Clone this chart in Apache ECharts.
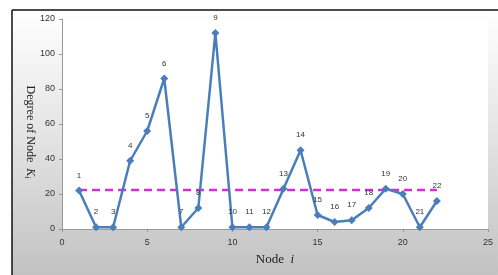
<!DOCTYPE html>
<html>
<head>
<meta charset="utf-8">
<script src="https://cdn.jsdelivr.net/npm/echarts@6/dist/echarts.min.js"></script>
<style>
  html, body { margin: 0; padding: 0; background: #fff; }
  #chart { width: 498px; height: 275px; }
</style>
</head>
<body>
<div id="chart"></div>
<script>
// node index and degree K_i
var nodes = [1, 2, 3, 4, 5, 6, 7, 8, 9, 10, 11, 12, 13, 14, 15, 16, 17, 18, 19, 20, 21, 22];
var degrees = [22, 1, 1, 39, 56, 86, 1, 12, 112, 1, 1, 1, 23, 45, 8, 4, 5, 12, 23, 20, 1, 16];
var avgDegree = 22.3; // dashed average line
var xTicks = [0, 5, 10, 15, 20, 25];
var yTicks = [0, 20, 40, 60, 80, 100, 120];

var points = [];
for (var i = 0; i < nodes.length; i++) {
  points.push([nodes[i], degrees[i]]);
}
var avgLine = [[nodes[0], avgDegree], [nodes[nodes.length - 1], avgDegree]];

var myChart = echarts.init(document.getElementById('chart'));

var option = {
  animation: false,
  backgroundColor: '#fff',
  graphic: [
    {
      type: 'rect',
      z: -10,
      shape: { x: 12, y: 10, width: 486, height: 265 },
      style: {
        fill: new echarts.graphic.LinearGradient(0, 0, 0, 1, [
          { offset: 0, color: '#ffffff' },
          { offset: 0.5, color: '#e2e2e2' },
          { offset: 1, color: '#c2c2c2' }
        ]),
        stroke: null
      }
    },
    { type: 'line', z: 5, shape: { x1: 12, y1: 10, x2: 498, y2: 10 }, style: { stroke: '#111', lineWidth: 1.5 } },
    { type: 'line', z: 5, shape: { x1: 12, y1: 10, x2: 12, y2: 275 }, style: { stroke: '#111', lineWidth: 1.5 } }
  ],
  grid: {
    left: 62,
    right: 10,
    top: 19,
    bottom: 46,
    show: true,
    backgroundColor: '#ffffff',
    borderWidth: 0
  },
  xAxis: {
    type: 'value',
    min: xTicks[0],
    max: xTicks[xTicks.length - 1],
    interval: 5,
    name: '{n|Node  }{i|i}',
    nameLocation: 'middle',
    nameGap: 24,
    nameTextStyle: {
      rich: {
        n: { fontFamily: 'Liberation Serif', fontSize: 13, color: '#222' },
        i: { fontFamily: 'Liberation Serif', fontSize: 13, fontStyle: 'italic', color: '#222' }
      }
    },
    axisLine: { lineStyle: { color: '#999', width: 1 } },
    axisTick: { show: true, length: 3, lineStyle: { color: '#999' } },
    axisLabel: { fontSize: 9, color: '#333', margin: 9 },
    splitLine: { show: false }
  },
  yAxis: {
    type: 'value',
    min: yTicks[0],
    max: yTicks[yTicks.length - 1],
    interval: 20,
    name: '{n|Degree of Node  }{k|K}{s|i}',
    nameLocation: 'middle',
    nameRotate: -90,
    nameGap: 25,
    nameMoveOverlap: false,
    nameTextStyle: {
      padding: [0, 0, 0, 16],
      rich: {
        n: { fontFamily: 'Liberation Serif', fontSize: 12, color: '#222' },
        k: { fontFamily: 'Liberation Serif', fontSize: 12, fontStyle: 'italic', color: '#222' },
        s: { fontFamily: 'Liberation Serif', fontSize: 8, fontStyle: 'italic', color: '#222', verticalAlign: 'bottom', padding: [6, 0, 0, 0] }
      }
    },
    axisLine: { show: true, lineStyle: { color: '#999', width: 1 } },
    axisTick: { show: true, inside: false, length: 3, lineStyle: { color: '#999' } },
    axisLabel: { fontSize: 9, color: '#333', margin: 7 },
    splitLine: { show: false }
  },
  series: [
    {
      type: 'line',
      data: avgLine,
      symbol: 'none',
      z: 3,
      lineStyle: { color: '#cc33cc', width: 2.5, type: [8, 5] }
    },
    {
      type: 'line',
      data: points,
      symbol: 'diamond',
      symbolSize: 8,
      z: 4,
      lineStyle: { color: '#4a7ebb', width: 2.5 },
      itemStyle: { color: '#4a7ebb' },
      label: {
        show: true,
        position: 'top',
        distance: 7,
        fontSize: 8,
        color: '#333',
        formatter: function (p) { return nodes[p.dataIndex]; }
      }
    }
  ]
};

myChart.setOption(option);
</script>
</body>
</html>
